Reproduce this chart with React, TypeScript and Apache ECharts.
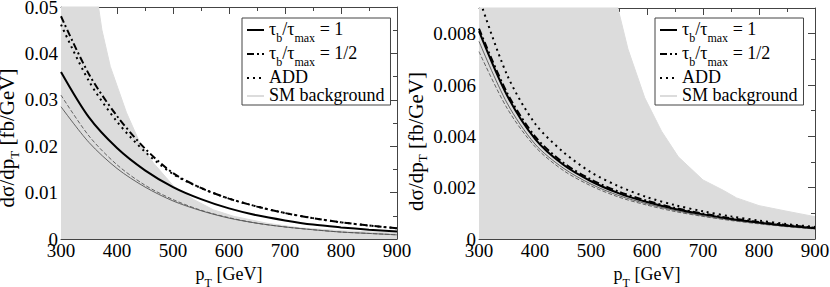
import React, { useEffect, useRef } from "react";
import * as echarts from "echarts";

// ---------- data ----------
const pT = [300, 350, 400, 450, 500, 550, 600, 650, 700, 750, 800, 850, 900];

// left panel
const tau1L = [0.036, 0.0262, 0.0196, 0.0148, 0.0112, 0.0086, 0.0066, 0.0051, 0.004, 0.0031, 0.0025, 0.002, 0.0016];
const tauHalfL = [0.048, 0.0355, 0.0265, 0.0195, 0.0142, 0.011, 0.0087, 0.007, 0.0056, 0.0045, 0.0036, 0.0029, 0.0023];
const addL = [0.0462, 0.034, 0.0253, 0.0188, 0.014, 0.011, 0.0087, 0.007, 0.0056, 0.0045, 0.0036, 0.0029, 0.0023];
const thinDashL = [0.031, 0.0222, 0.016, 0.0116, 0.0085, 0.0062, 0.0046, 0.0034, 0.0026, 0.002, 0.0015, 0.0012, 0.0009];
const thinSolidL = [0.0285, 0.0208, 0.0152, 0.0112, 0.0082, 0.0061, 0.0045, 0.0034, 0.0026, 0.002, 0.0015, 0.0012, 0.0009];
const bandXL = [300, 340, 367, 373, 388, 417, 441, 465, 501, 537, 572, 608, 668, 727, 800, 900];
const bandYL = [0.075, 0.058, 0.05, 0.0451, 0.0372, 0.0272, 0.0207, 0.0164, 0.0114, 0.0085, 0.0063, 0.0049, 0.0034, 0.0024, 0.0018, 0.0013];

// right panel
const tau1R = [0.0081, 0.0056, 0.0039, 0.0029, 0.00225, 0.00178, 0.00144, 0.00117, 0.00096, 0.00078, 0.00064, 0.00052, 0.00042];
const tauHalfR = [0.0082, 0.0057, 0.004, 0.00298, 0.00232, 0.00184, 0.00149, 0.00121, 0.00099, 0.00081, 0.00066, 0.00054, 0.00044];
const addR = [0.0094, 0.0064, 0.0045, 0.0034, 0.0026, 0.00205, 0.00163, 0.00132, 0.00108, 0.00088, 0.00072, 0.00058, 0.00047];
const thinSolidR = [0.0077, 0.0053, 0.0037, 0.00277, 0.00214, 0.00169, 0.00137, 0.00111, 0.00091, 0.00074, 0.00061, 0.00049, 0.0004];
const thinDashR = [0.0073, 0.0051, 0.0036, 0.00268, 0.00207, 0.00163, 0.00132, 0.00107, 0.00088, 0.00072, 0.00059, 0.00048, 0.00039];
const bandXR = [300, 540, 548, 566, 596, 626, 656, 700, 736, 760, 800, 850, 900];
const bandYR = [0.02, 0.0102, 0.009, 0.0074, 0.0055, 0.0042, 0.0032, 0.0023, 0.0019, 0.0016, 0.0013, 0.00108, 0.00087];

const xTicks = [300, 400, 500, 600, 700, 800, 900];

// ---------- styling ----------
const FONT = "Liberation Serif, serif";
const FRAME = "#444";
const BAND = "#dcdcdc";

const pair = (xs: number[], ys: number[]) => xs.map((x, i) => [x, ys[i]]);

const richMain = {
  m: { fontSize: 18, fontFamily: FONT, color: "#000", lineHeight: 20, verticalAlign: "top" },
  s: { fontSize: 12, fontFamily: FONT, color: "#000", lineHeight: 11, padding: [12, 0, 0, 0], verticalAlign: "top" },
};
const richY = {
  m: { fontSize: 21, fontFamily: FONT, color: "#000", lineHeight: 22, verticalAlign: "top" },
  s: { fontSize: 13, fontFamily: FONT, color: "#000", lineHeight: 12, padding: [11, 0, 0, 0], verticalAlign: "top" },
};

const legendText: Record<string, string> = {
  tau1: "{m|τ}{s|b}{m|/τ}{s|max}{m| = 1}",
  tauHalf: "{m|τ}{s|b}{m|/τ}{s|max}{m| = 1/2}",
  ADD: "{m|ADD}",
  SM: "{m|SM background}",
};

function xAxes(grid: number) {
  const common = {
    gridIndex: grid,
    type: "value",
    min: xTicks[0],
    max: xTicks[xTicks.length - 1],
    interval: 100,
    axisLine: { onZero: false, lineStyle: { color: FRAME, width: 1 } },
    axisTick: { inside: true, length: 7, lineStyle: { color: FRAME } },
    minorTick: { show: true, splitNumber: 2, length: 4, lineStyle: { color: FRAME } },
    splitLine: { show: false },
  };
  return [
    {
      ...common,
      position: "bottom",
      axisLabel: { color: "#000", fontSize: 19, fontFamily: FONT, margin: 2 },
      name: "{m|p}{s|T}{m| [GeV]}",
      nameLocation: "middle",
      nameGap: 20,
      nameTextStyle: { rich: richMain, fontFamily: FONT },
    },
    { ...common, position: "top", axisLabel: { show: false } },
  ];
}

function yAxes(grid: number, max: number, interval: number, nameGap: number, shift: number) {
  const common = {
    gridIndex: grid,
    type: "value",
    min: 0,
    max,
    interval,
    axisLine: { show: true, onZero: false, lineStyle: { color: FRAME, width: 1 } },
    axisTick: { show: true, inside: true, length: 7, lineStyle: { color: FRAME } },
    minorTick: { show: true, splitNumber: 2, length: 4, lineStyle: { color: FRAME } },
    splitLine: { show: false },
  };
  return [
    {
      ...common,
      position: "left",
      axisLabel: { color: "#000", fontSize: 19, fontFamily: FONT, margin: 3, showMaxLabel: max === 0.05 },
      name: "{m|dσ/dp}{s|T}{m| [fb/GeV]}",
      nameLocation: "middle",
      nameGap,
      nameTextStyle: { rich: richY, fontFamily: FONT, padding: [0, shift, 0, 0] },
    },
    { ...common, position: "right", axisLabel: { show: false } },
  ];
}

function panelSeries(
  grid: number,
  bx: number[],
  by: number[],
  tS: number[],
  tD: number[],
  t1: number[],
  tH: number[],
  ad: number[]
) {
  const xi = grid * 2;
  const yi = grid * 2;
  const base = { type: "line", xAxisIndex: xi, yAxisIndex: yi, symbol: "none", silent: true, clip: true };
  return [
    {
      ...base,
      name: "SM",
      data: pair(bx, by),
      lineStyle: { color: BAND, width: 1 },
      itemStyle: { color: BAND },
      areaStyle: { color: BAND, opacity: 1 },
    },
    { ...base, name: "thinSolid" + grid, data: pair(pT, tS), smooth: 0.3, lineStyle: { color: "#555", width: 0.9 }, itemStyle: { color: "#555" } },
    { ...base, name: "thinDash" + grid, data: pair(pT, tD), smooth: 0.3, lineStyle: { color: "#555", width: 0.9, type: [4, 2] }, itemStyle: { color: "#555" } },
    { ...base, name: "tau1", data: pair(pT, t1), smooth: 0.3, lineStyle: { color: "#000", width: 2 }, itemStyle: { color: "#000" } },
    { ...base, name: "tauHalf", data: pair(pT, tH), smooth: 0.3, lineStyle: { color: "#000", width: 2, type: [7, 3, 2, 3] }, itemStyle: { color: "#000" } },
    { ...base, name: "ADD", data: pair(pT, ad), smooth: 0.3, lineStyle: { color: "#000", width: 2, type: [2, 4] }, itemStyle: { color: "#000" } },
  ];
}

function legend(left: number, top: number) {
  return {
    left,
    top,
    orient: "vertical",
    itemWidth: 17,
    itemHeight: 10,
    itemGap: 0,
    padding: [2, 6, 1, 4],
    borderColor: FRAME,
    borderWidth: 1,
    selectedMode: false,
    itemStyle: { opacity: 0 },
    data: [
      { name: "tau1" },
      { name: "tauHalf" },
      { name: "ADD" },
      { name: "SM", lineStyle: { color: BAND, width: 2 } },
    ],
    formatter: (n: string) => legendText[n] || n,
    textStyle: { rich: richMain, fontFamily: FONT },
  };
}

export default function App() {
  const ref = useRef<HTMLDivElement>(null);
  useEffect(() => {
    if (!ref.current) return;
    const chart = echarts.init(ref.current, undefined, { renderer: "svg" });
    chart.setOption({
      animation: false,
      backgroundColor: "#fff",
      textStyle: { fontFamily: FONT },
      grid: [
        { left: 61, right: 433, top: 7, bottom: 48, outerBoundsMode: "none", containLabel: false },
        { left: 479, right: 15, top: 8, bottom: 48, outerBoundsMode: "none", containLabel: false },
      ],
      xAxis: [...xAxes(0), ...xAxes(1)],
      yAxis: [...yAxes(0, 0.05, 0.01, 36, 30), ...yAxes(1, 0.009, 0.002, 50, 36)],
      legend: [legend(242, 18), legend(655, 18)],
      series: [
        ...panelSeries(0, bandXL, bandYL, thinSolidL, thinDashL, tau1L, tauHalfL, addL),
        ...panelSeries(1, bandXR, bandYR, thinSolidR, thinDashR, tau1R, tauHalfR, addR),
      ],
    });
    return () => chart.dispose();
  }, []);
  return <div ref={ref} style={{ width: 830, height: 287, position: "absolute", left: 0, top: 0 }} />;
}
